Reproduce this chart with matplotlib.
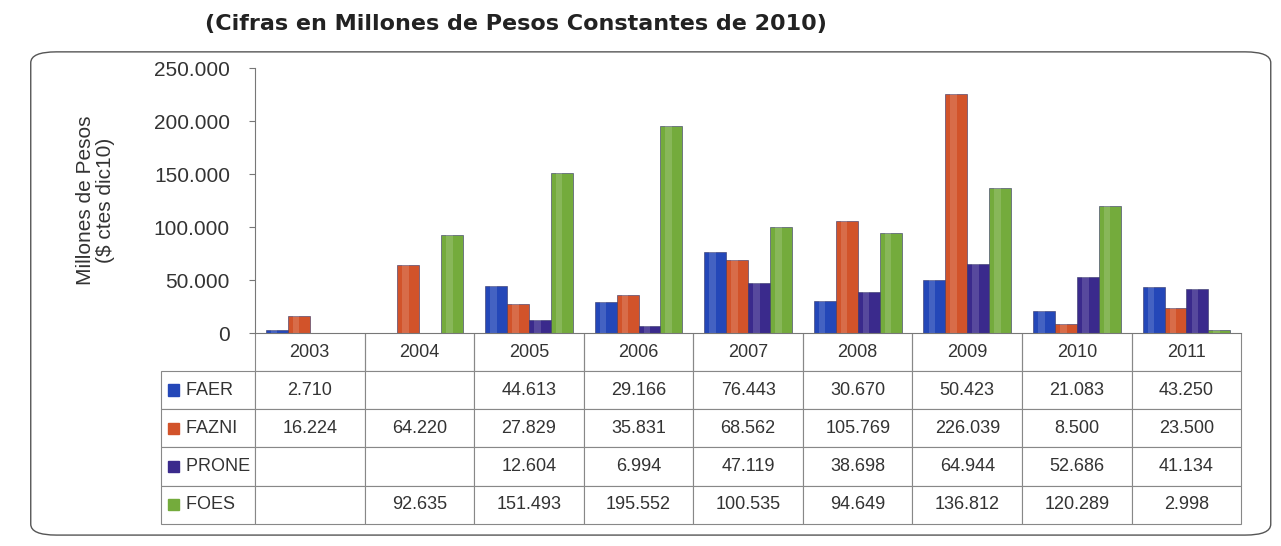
import matplotlib.pyplot as plt
import numpy as np
from matplotlib.patches import FancyBboxPatch, Rectangle
from matplotlib.ticker import FuncFormatter

years = ['2003', '2004', '2005', '2006', '2007', '2008', '2009', '2010', '2011']
series_names = ['FAER', 'FAZNI', 'PRONE', 'FOES']
faer = [2710, None, 44613, 29166, 76443, 30670, 50423, 21083, 43250]
fazni = [16224, 64220, 27829, 35831, 68562, 105769, 226039, 8500, 23500]
prone = [None, None, 12604, 6994, 47119, 38698, 64944, 52686, 41134]
foes = [None, 92635, 151493, 195552, 100535, 94649, 136812, 120289, 2998]
colors = ['#2447b8', '#d2532a', '#3a2a8c', '#74ab3c']

plt.rcParams['font.family'] = ['Liberation Sans', 'DejaVu Sans']


def thousands(v, pos=None):
    return f"{int(round(v)):,}".replace(',', '.')


fig = plt.figure(figsize=(12.81, 5.46), dpi=100)

# rounded frame around the chart
frame = FancyBboxPatch((0.024, 0.02), 0.968, 0.885, transform=fig.transFigure,
                       boxstyle='round,pad=0,rounding_size=0.02',
                       fc='none', ec='#555555', lw=1.0)
fig.patches.append(frame)

fig.text(0.16, 0.975, '(Cifras en Millones de Pesos Constantes de 2010)',
         fontsize=16, fontweight='bold', family='DejaVu Sans',
         color='#222222', va='top', ha='left')

ax = fig.add_axes([0.199, 0.39, 0.77, 0.485])
x = np.arange(len(years))
width = 0.2
all_series = [faer, fazni, prone, foes]
for i, (vals, c) in enumerate(zip(all_series, colors)):
    v = np.array([0 if s is None else s for s in vals], dtype=float)
    pos = x + (i - 1.5) * width
    ax.bar(pos, v, width, color=c, edgecolor='#333366', linewidth=0.4, zorder=2)
    # light stripe for a bit of the 3D look
    ax.bar(pos - width * 0.12, v, width * 0.3, color='white', alpha=0.15,
           linewidth=0, zorder=3)

ax.set_xlim(-0.5, len(years) - 0.5)
ax.set_ylim(0, 250000)
ax.set_yticks(np.arange(0, 250001, 50000))
ax.yaxis.set_major_formatter(FuncFormatter(thousands))
ax.tick_params(axis='y', labelsize=15, length=4, color='#777777', pad=14,
               labelcolor='#333333')
ax.set_xticks([])
for s in ['top', 'right']:
    ax.spines[s].set_visible(False)
ax.spines['left'].set_color('#777777')
ax.spines['bottom'].set_color('#777777')
ax.set_ylabel('Millones de Pesos\n($ ctes dic10)', fontsize=15, color='#333333',
              labelpad=28, linespacing=1.05)

# data table under the plot
lw = 0.095
rows = [[''] + years]
for name, vals in zip(series_names, all_series):
    rows.append(['   ' + name] + ['' if s is None else thousands(s) for s in vals])
th = 0.72
tbl = ax.table(cellText=rows, cellLoc='center', bbox=[-lw, -th, 1 + lw, th],
               colWidths=[lw] + [1.0 / len(years)] * len(years))
tbl.auto_set_font_size(False)
tbl.set_fontsize(13)
for (r, c), cell in tbl.get_celld().items():
    cell.set_edgecolor('#888888')
    cell.set_linewidth(0.8)
    cell.get_text().set_color('#333333')
    if c == 0:
        cell.get_text().set_ha('left')
        cell._loc = 'left'
    if r == 0 and c == 0:
        cell.visible_edges = ''
    elif r == 0:
        cell.visible_edges = 'LRB'

row_h = th / len(rows)
for i, c in enumerate(colors):
    yc = -row_h * (i + 1.5)
    ax.add_patch(Rectangle((-lw + 0.007, yc - 0.022), 0.011, 0.044,
                           transform=ax.transAxes, color=c, clip_on=False))

fig.savefig('out.png', dpi=100)
